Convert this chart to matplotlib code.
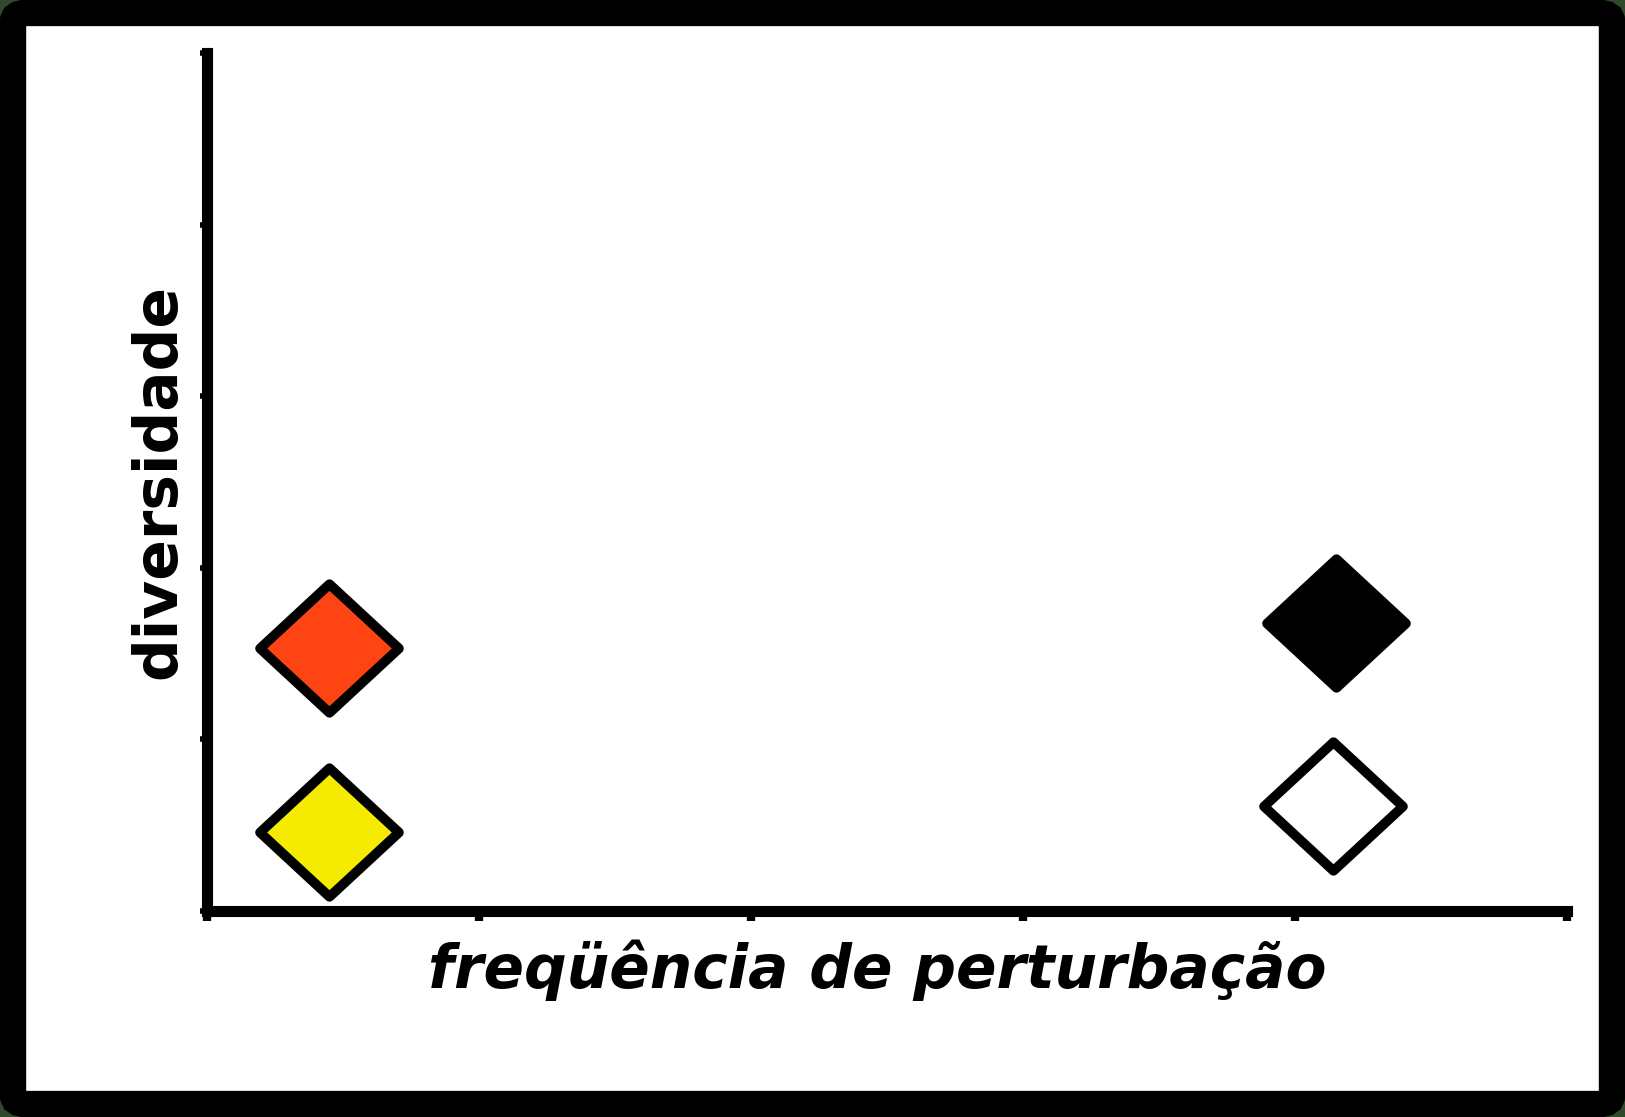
import matplotlib
matplotlib.use('Agg')
import matplotlib.pyplot as plt
from matplotlib.patches import FancyBboxPatch
from matplotlib.path import Path

# data
x_vals = [0.45, 0.45, 4.15, 4.14]
y_vals = [1.53, 0.46, 1.68, 0.61]
fill_colors = ['#ff4413', '#f5eb00', '#000000', '#ffffff']
x_ticks = [0, 1, 2, 3, 4, 5]
y_ticks = [0, 1, 2, 3, 4, 5]

fig = plt.figure(figsize=(16.25, 11.17), dpi=100)
fig.patch.set_facecolor('#2f4a2a')

# black rounded frame around the white card
frame = FancyBboxPatch((0.008, 0.0116), 0.984, 0.9768,
                       boxstyle="round,pad=0,rounding_size=0.008",
                       transform=fig.transFigure, facecolor='white',
                       edgecolor='black', linewidth=19, zorder=-10)
fig.patches.append(frame)

ax = fig.add_axes([0.1274, 0.1844, 0.8369, 0.7682])
ax.set_facecolor('none')

# slightly wide diamond marker
diamond = Path([(0, 1), (1.08, 0), (0, -1), (-1.08, 0), (0, 1)],
               [Path.MOVETO, Path.LINETO, Path.LINETO, Path.LINETO, Path.CLOSEPOLY])

for x, y, c in zip(x_vals, y_vals, fill_colors):
    ax.plot(x, y, marker=diamond, markersize=100, markerfacecolor=c,
            markeredgecolor='black', markeredgewidth=7, linestyle='none',
            clip_on=False)

ax.set_xlim(0, 5)
ax.set_ylim(0, 5)
ax.set_xticks(x_ticks)
ax.set_yticks(y_ticks)
ax.set_xticklabels([])
ax.set_yticklabels([])
ax.tick_params(axis='x', direction='out', length=7, width=6)
ax.tick_params(axis='y', direction='out', length=5, width=4)
for s in ['top', 'right']:
    ax.spines[s].set_visible(False)
for s in ['left', 'bottom']:
    ax.spines[s].set_linewidth(8)

ax.set_xlabel('freqüência de perturbação', fontsize=43, fontweight='bold',
              fontstyle='italic', labelpad=10)
ax.xaxis.label.set_x(0.4925)
ax.set_ylabel('diversidade', fontsize=43, fontweight='bold', labelpad=5)

plt.savefig('out.png', dpi=100)
plt.close(fig)
